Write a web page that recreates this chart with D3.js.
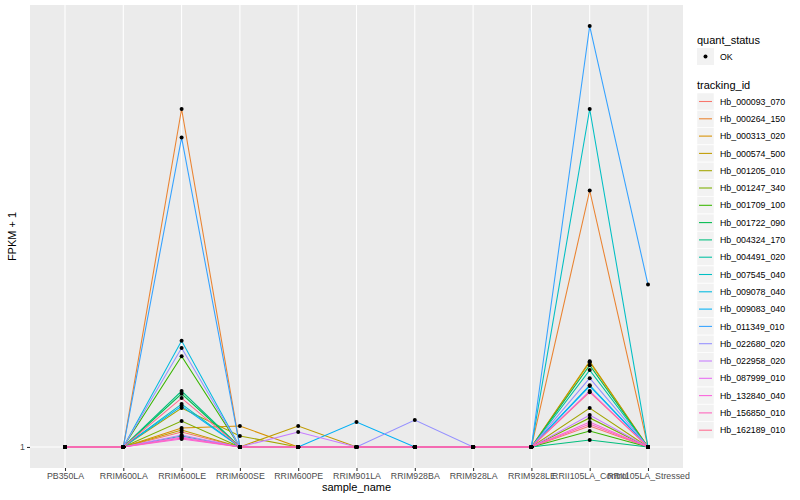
<!DOCTYPE html>
<html>
<head>
  <title>FPKM expression plot</title>
  <script src="https://d3js.org/d3.v7.min.js"></script>
  <style>
    body { margin: 0; background: #fff; }
    text { font-family: "Liberation Sans", Arial, sans-serif; }
  </style>
</head>
<body>
  <div id="chart"></div>

  <script>
    var samples = ["PB350LA", "RRIM600LA", "RRIM600LE", "RRIM600SE", "RRIM600PE", "RRIM901LA",
                   "RRIM928BA", "RRIM928LA", "RRIM928LE", "RRII105LA_Control", "RRII105LA_Stressed"];

    var trackingIds = ["Hb_000093_070", "Hb_000264_150", "Hb_000313_020", "Hb_000574_500", "Hb_001205_010",
                       "Hb_001247_340", "Hb_001709_100", "Hb_001722_090", "Hb_004324_170", "Hb_004491_020",
                       "Hb_007545_040", "Hb_009078_040", "Hb_009083_040", "Hb_011349_010", "Hb_022680_020",
                       "Hb_022958_020", "Hb_087999_010", "Hb_132840_040", "Hb_156850_010", "Hb_162189_010"];

    // FPKM + 1, one row per tracking_id, one column per sample
    var fpkm = [
      [1, 1, 1.077, 1, 1, 1, 1, 1, 1, 1.109, 1],
      [1, 1, 5.31, 1, 1, 1, 1, 1, 1, 3.55, 1],
      [1, 1, 1.098, 1.109, 1, 1, 1, 1, 1, 1.520, 1],
      [1, 1, 1.087, 1, 1.109, 1, 1, 1, 1, 1.528, 1],
      [1, 1, 1.212, 1.056, 1, 1, 1, 1, 1, 1.212, 1],
      [1, 1, 1.137, 1, 1, 1, 1, 1, 1, 1.154, 1],
      [1, 1, 1.566, 1, 1, 1, 1, 1, 1, 1.082, 1],
      [1, 1, 1.300, 1, 1, 1, 1, 1, 1, 1.498, 1],
      [1, 1, 1.318, 1, 1, 1, 1, 1, 1, 1.035, 1],
      [1, 1, 1.056, 1, 1, 1, 1, 1, 1, 1.462, 1],
      [1, 1, 1.236, 1, 1, 1, 1, 1, 1, 5.31, 1],
      [1, 1, 1.69, 1, 1, 1, 1, 1, 1, 1.357, 1],
      [1, 1, 1.224, 1, 1, 1.131, 1, 1, 1, 1.351, 1],
      [1, 1, 4.61, 1, 1, 1, 1, 1, 1, 8.0, 2.23],
      [1, 1, 1.63, 1, 1, 1, 1.142, 1, 1, 1.405, 1],
      [1, 1, 1.061, 1, 1.077, 1, 1, 1, 1, 1.171, 1],
      [1, 1, 1.050, 1, 1, 1, 1, 1, 1, 1.318, 1],
      [1, 1, 1.040, 1, 1, 1, 1, 1, 1, 1.131, 1],
      [1, 1, 1.045, 1, 1, 1, 1, 1, 1, 1.120, 1],
      [1, 1, 1.273, 1, 1, 1, 1, 1, 1, 1.311, 1]
    ];

    var colors = ["#F8766D", "#EA8331", "#D89000", "#C09B00", "#A3A500", "#7CAE00", "#39B600", "#00BB4E",
                  "#00BF7D", "#00C1A3", "#00BFC4", "#00BAE0", "#00B0F6", "#35A2FF", "#9590FF", "#C77CFF",
                  "#E76BF3", "#FA62DB", "#FF62BC", "#FF6C91"];

    var yTicks = [1];

    var width = 800, height = 500;
    var panel = { left: 30, right: 683, top: 5, bottom: 468 };

    var svg = d3.select("#chart").append("svg")
      .attr("width", width)
      .attr("height", height);

    var x = d3.scalePoint()
      .domain(samples)
      .range([65, 648]);

    // log scale with ggplot-style 5% expansion
    var yMin = 1, yMax = d3.max(fpkm, function(r) { return d3.max(r); });
    var span = Math.log10(yMax) - Math.log10(yMin);
    var y = d3.scaleLog()
      .domain([Math.pow(10, Math.log10(yMin) - 0.05 * span), Math.pow(10, Math.log10(yMax) + 0.05 * span)])
      .range([panel.bottom, panel.top]);

    svg.append("rect")
      .attr("x", panel.left).attr("y", panel.top)
      .attr("width", panel.right - panel.left).attr("height", panel.bottom - panel.top)
      .attr("fill", "#EBEBEB");

    var grid = svg.append("g");
    grid.selectAll(".vg").data(samples).enter().append("line")
      .attr("x1", function(d) { return x(d); }).attr("x2", function(d) { return x(d); })
      .attr("y1", panel.top).attr("y2", panel.bottom)
      .attr("stroke", "#fff").attr("stroke-width", 1.07);
    grid.selectAll(".hg").data(yTicks).enter().append("line")
      .attr("x1", panel.left).attr("x2", panel.right)
      .attr("y1", function(d) { return y(d); }).attr("y2", function(d) { return y(d); })
      .attr("stroke", "#fff").attr("stroke-width", 1.07);

    var line = d3.line()
      .x(function(d, i) { return x(samples[i]); })
      .y(function(d) { return y(d); });

    svg.append("g").selectAll("path")
      .data(fpkm)
      .enter().append("path")
      .attr("d", line)
      .attr("fill", "none")
      .attr("stroke", function(d, i) { return colors[i]; })
      .attr("stroke-width", 1.07);

    var pts = [];
    fpkm.forEach(function(row) {
      row.forEach(function(v, j) { pts.push({ s: samples[j], v: v }); });
    });
    svg.append("g").selectAll("circle")
      .data(pts)
      .enter().append("circle")
      .attr("cx", function(d) { return x(d.s); })
      .attr("cy", function(d) { return y(d.v); })
      .attr("r", 2)
      .attr("fill", "#000");

    // axes
    var xAxis = svg.append("g")
      .attr("transform", "translate(0," + panel.bottom + ")")
      .call(d3.axisBottom(x).tickSize(3).tickPadding(2));
    xAxis.select(".domain").remove();
    xAxis.selectAll("line").attr("stroke", "#333333").attr("stroke-width", 1.07);
    xAxis.selectAll("text").attr("fill", "#4D4D4D").style("font-size", "8.8px");

    var yAxis = svg.append("g")
      .attr("transform", "translate(" + panel.left + ",0)")
      .call(d3.axisLeft(y).tickValues(yTicks).tickFormat(d3.format("d")).tickSize(3).tickPadding(2));
    yAxis.select(".domain").remove();
    yAxis.selectAll("line").attr("stroke", "#333333").attr("stroke-width", 1.07);
    yAxis.selectAll("text").attr("fill", "#4D4D4D").style("font-size", "8.8px");

    svg.append("text")
      .attr("x", (panel.left + panel.right) / 2).attr("y", 491)
      .attr("text-anchor", "middle")
      .style("font-size", "11px")
      .text("sample_name");

    svg.append("text")
      .attr("transform", "translate(16," + (panel.top + panel.bottom) / 2 + ") rotate(-90)")
      .attr("text-anchor", "middle")
      .style("font-size", "11px")
      .text("FPKM + 1");

    // legends
    var lg = svg.append("g").attr("transform", "translate(697,0)");
    lg.append("text").attr("x", 0).attr("y", 44).style("font-size", "11px").text("quant_status");
    lg.append("rect").attr("x", 0).attr("y", 48).attr("width", 17).attr("height", 17).attr("fill", "#F2F2F2");
    lg.append("circle").attr("cx", 8.5).attr("cy", 56.5).attr("r", 2).attr("fill", "#000");
    lg.append("text").attr("x", 23).attr("y", 60).style("font-size", "8.8px").text("OK");

    lg.append("text").attr("x", 0).attr("y", 89).style("font-size", "11px").text("tracking_id");
    var keys = lg.selectAll(".key").data(trackingIds).enter().append("g")
      .attr("transform", function(d, i) { return "translate(0," + (93 + i * 17.3) + ")"; });
    keys.append("rect").attr("width", 17).attr("height", 17).attr("fill", "#F2F2F2")
      .attr("stroke", "#fff").attr("stroke-width", 0.5);
    keys.append("line").attr("x1", 2).attr("x2", 15).attr("y1", 8.5).attr("y2", 8.5)
      .attr("stroke", function(d, i) { return colors[i]; }).attr("stroke-width", 1.07);
    keys.append("text").attr("x", 23).attr("y", 11.7).style("font-size", "8.8px").text(function(d) { return d; });
  </script>
</body>
</html>
